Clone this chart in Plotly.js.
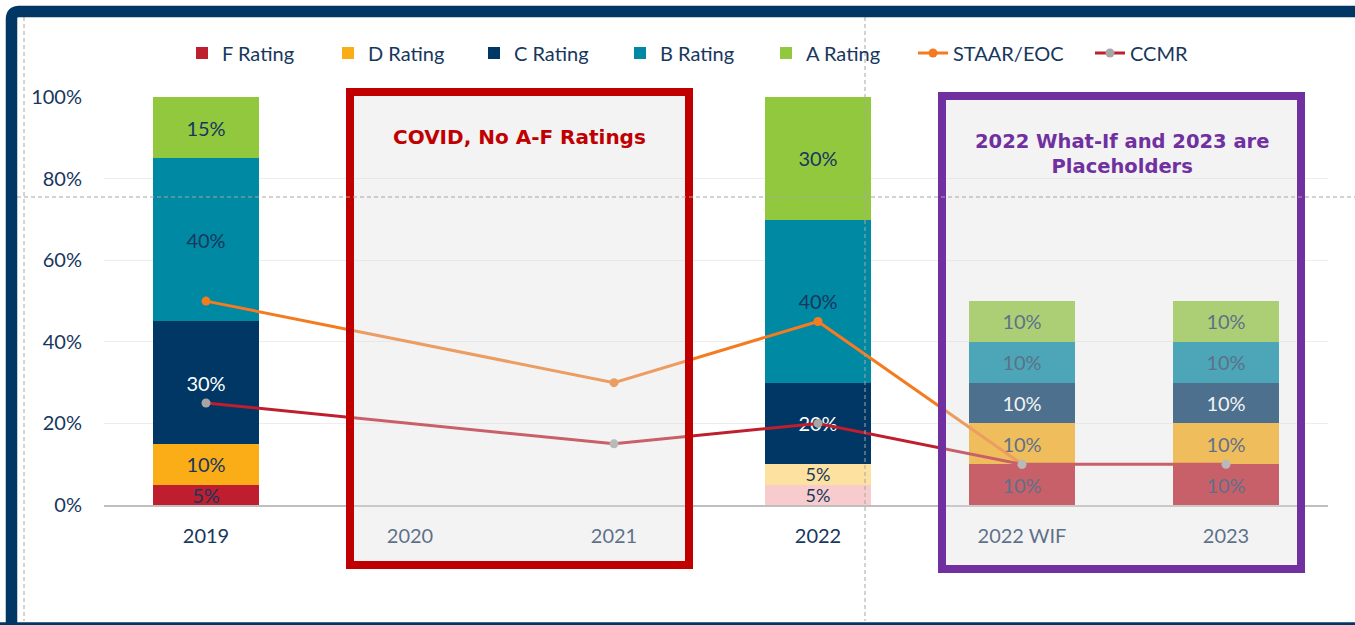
<!DOCTYPE html>
<html><head><meta charset="utf-8">
<script src="https://cdn.plot.ly/plotly-3.0.1.min.js"></script>
<style>html,body{margin:0;padding:0;background:#fff;} #chart{width:1355px;height:625px;}</style>
</head><body><div id="chart"></div>
<script>
// ---- data ----
const categories = ['2019', '2020', '2021', '2022', '2022 WIF', '2023'];
const fRating = [0.05, null, null, 0.05, 0.10, 0.10];
const dRating = [0.10, null, null, 0.05, 0.10, 0.10];
const cRating = [0.30, null, null, 0.20, 0.10, 0.10];
const bRating = [0.40, null, null, 0.40, 0.10, 0.10];
const aRating = [0.15, null, null, 0.30, 0.10, 0.10];
const staarEoc = [0.50, null, 0.30, 0.45, 0.10, null];
const ccmr = [0.25, null, 0.15, 0.20, 0.10, 0.10];
const yTickVals = [0, 0.2, 0.4, 0.6, 0.8, 1.0];
const yTickText = ['0%', '20%', '40%', '60%', '80%', '100%'];

// ---- styles ----
const NAVY = '#17375e';
const FONT = 'Lato, "Open Sans", sans-serif';
const TITLE_FONT = '"DejaVu Sans", "Open Sans", sans-serif';
const fColors = ['#be1e2d', '#be1e2d', '#be1e2d', '#f8cbcc', '#be1e2d', '#be1e2d'];
const dColors = ['#fbad18', '#fbad18', '#fbad18', '#fde1a0', '#fbad18', '#fbad18'];
const smallLabelSizes = [20, 20, 20, 18, 20, 20];

const W = 1355, H = 625, ML = 104, MR = 27, MT = 97, MB = 120;
const PW = W - ML - MR, PH = H - MT - MB;
const X = px => (px - ML) / PW;
const Y = py => (H - MB - py) / PH;

function barTrace(name, vals, color, textColor, textSize) {
  return {
    type: 'bar', name: name, x: categories, y: vals,
    marker: {color: color, line: {width: 0}},
    width: 0.515,
    texttemplate: '%{y:.0%}', textposition: 'inside', insidetextanchor: 'middle',
    textangle: 0, constraintext: 'none',
    textfont: {family: FONT, size: textSize || 20, color: textColor},
    hoverinfo: 'skip', legend: 'legend'
  };
}

const traces = [
  barTrace('F Rating', fRating, fColors, NAVY, smallLabelSizes),
  barTrace('D Rating', dRating, dColors, NAVY, smallLabelSizes),
  barTrace('C Rating', cRating, '#003764', '#ffffff'),
  barTrace('B Rating', bRating, '#0089a3', NAVY),
  barTrace('A Rating', aRating, '#92c83e', NAVY),
  {type: 'scatter', mode: 'lines+markers', name: 'STAAR/EOC', x: categories, y: staarEoc,
   connectgaps: true, line: {color: '#f47b20', width: 3},
   marker: {color: '#f47b20', size: 9}, hoverinfo: 'skip', legend: 'legend3'},
  {type: 'scatter', mode: 'lines+markers', name: 'CCMR', x: categories, y: ccmr,
   connectgaps: true, line: {color: '#be1e2d', width: 3},
   marker: {color: '#a6a6a6', size: 9}, hoverinfo: 'skip', legend: 'legend2'}
];

const guide = {color: '#a6a6a6', width: 1, dash: '4px,3px'};
const shapes = [
  {type: 'rect', xref: 'paper', yref: 'paper', layer: 'above',
   x0: X(350), x1: X(689), y0: Y(565), y1: Y(92),
   line: {color: '#c00000', width: 8}, fillcolor: 'rgba(220,220,220,0.35)'},
  {type: 'rect', xref: 'paper', yref: 'paper', layer: 'above',
   x0: X(942), x1: X(1301), y0: Y(569), y1: Y(96),
   line: {color: '#7030a0', width: 8}, fillcolor: 'rgba(220,220,220,0.35)'},
  {type: 'line', xref: 'paper', yref: 'paper', layer: 'above',
   x0: X(865), x1: X(865), y0: Y(17), y1: Y(621), line: guide},
  {type: 'line', xref: 'paper', yref: 'paper', layer: 'above',
   x0: X(24), x1: X(24), y0: Y(17), y1: Y(621), line: guide},
  {type: 'line', xref: 'paper', yref: 'paper', layer: 'above',
   x0: X(17), x1: X(1360), y0: Y(197), y1: Y(197), line: guide},
  {type: 'path', xref: 'paper', yref: 'paper', layer: 'above',
   path: 'M' + X(11.5) + ',' + Y(640) + ' L' + X(11.5) + ',' + Y(19) +
         ' Q' + X(11.5) + ',' + Y(11.5) + ' ' + X(19) + ',' + Y(11.5) +
         ' L' + X(1400) + ',' + Y(11.5),
   line: {color: '#003764', width: 11.5}},
  {type: 'line', xref: 'paper', yref: 'paper', layer: 'above',
   x0: X(0), x1: X(1400), y0: Y(628), y1: Y(628),
   line: {color: '#003764', width: 11.5}}
];

const annotations = [
  {xref: 'paper', yref: 'paper', x: X(519), y: Y(137), xanchor: 'center', yanchor: 'middle',
   showarrow: false, text: 'COVID, No A-F Ratings',
   font: {family: TITLE_FONT, size: 20, color: '#c00000', weight: 700}},
  {xref: 'paper', yref: 'paper', x: X(1122), y: Y(154), xanchor: 'center', yanchor: 'middle',
   showarrow: false, text: '2022 What-If and 2023 are<br>Placeholders',
   font: {family: TITLE_FONT, size: 19.5, color: '#7030a0', weight: 700}}
];

const legendStyle = {
  orientation: 'h', xanchor: 'left', yanchor: 'middle',
  font: {family: FONT, size: 20, color: NAVY}, traceorder: 'normal',
  bgcolor: 'rgba(0,0,0,0)', borderwidth: 0
};

const layout = {
  width: W, height: H,
  margin: {l: ML, r: MR, t: MT, b: MB, pad: 0},
  paper_bgcolor: '#ffffff', plot_bgcolor: '#ffffff',
  barmode: 'stack', showlegend: true, hovermode: false,
  font: {family: FONT, size: 20, color: NAVY},
  legend: Object.assign({}, legendStyle, {x: X(182), y: Y(53), entrywidth: 101, entrywidthmode: 'pixels'}),
  legend3: Object.assign({}, legendStyle, {x: X(913), y: Y(53)}),
  legend2: Object.assign({}, legendStyle, {x: X(1090), y: Y(53)}),
  xaxis: {type: 'category', categoryarray: categories, categoryorder: 'array',
          range: [-0.5, 5.5], showgrid: false, zeroline: false,
          showline: true, linecolor: '#bfbfbf', linewidth: 2,
          ticks: '', ticklabelstandoff: 12,
          tickfont: {family: FONT, size: 20, color: NAVY}},
  yaxis: {range: [0, 1.0005], tickvals: yTickVals, ticktext: yTickText,
          showgrid: true, gridcolor: '#ededed', gridwidth: 1, zeroline: false,
          showline: false, ticks: '', ticklabelstandoff: 21,
          tickfont: {family: FONT, size: 20, color: NAVY}},
  shapes: shapes, annotations: annotations
};

Plotly.newPlot('chart', traces, layout, {staticPlot: true, displayModeBar: false});
</script></body></html>
